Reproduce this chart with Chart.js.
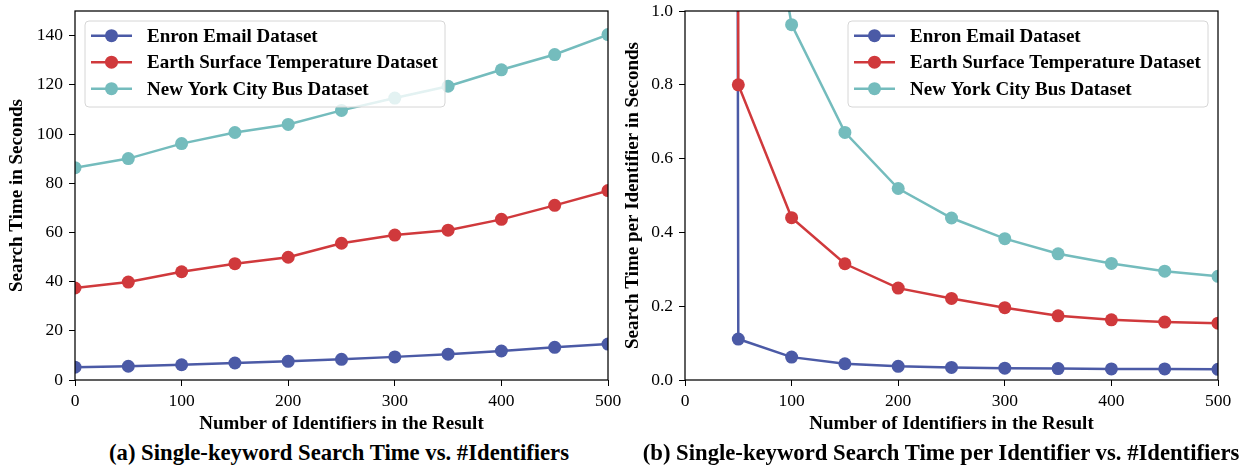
<!DOCTYPE html>
<html>
<head>
<meta charset="utf-8">
<script src="https://cdn.jsdelivr.net/npm/chart.js@4.4.1/dist/chart.umd.min.js"></script>
<style>
  html, body { margin: 0; padding: 0; background: #fff; }
  #wrap { position: relative; width: 1249px; height: 466px; background: #fff; overflow: hidden; }
  canvas { position: absolute; top: 0; }
  .cap { position: absolute; top: 440px; height: 26px; line-height: 26px; font-family: 'Liberation Serif', 'Times New Roman', serif; font-weight: bold; font-size: 22.7px; color: #000; white-space: nowrap; transform: translateX(-50%); }
</style>
</head>
<body>
<div id="wrap">
  <canvas id="c1" width="622" height="440" style="left:0px"></canvas>
  <canvas id="c2" width="634" height="440" style="left:615px"></canvas>
  <div class="cap" style="left:339px">(a) Single-keyword Search Time vs. #Identifiers</div>
  <div class="cap" style="left:941px">(b) Single-keyword Search Time per Identifier vs. #Identifiers</div>
</div>
<script>
// ---------- data ----------
const seriesNames = ['Enron Email Dataset', 'Earth Surface Temperature Dataset', 'New York City Bus Dataset'];
const seriesColors = ['#4b5aa6', '#d0393c', '#74bcbd'];
const identifiers = [0, 50, 100, 150, 200, 250, 300, 350, 400, 450, 500];

// (a) search time in seconds
const enronTime = [5.2, 5.6, 6.2, 6.9, 7.6, 8.4, 9.4, 10.5, 11.8, 13.3, 14.6];
const earthTime = [37.4, 39.8, 44.0, 47.3, 49.9, 55.6, 58.9, 60.9, 65.3, 71.0, 77.0];
const nycTime   = [86.3, 90.0, 96.1, 100.6, 103.9, 109.6, 114.6, 119.4, 126.1, 132.3, 140.4];

// (b) search time per identifier (value at 0 identifiers is off the scale)
const enronPer = [1000, 0.111, 0.062, 0.044, 0.037, 0.034, 0.032, 0.031, 0.030, 0.030, 0.029];
const earthPer = [1000, 0.800, 0.440, 0.315, 0.249, 0.221, 0.196, 0.174, 0.163, 0.157, 0.154];
const nycPer   = [1000, 1.800, 0.963, 0.671, 0.519, 0.439, 0.383, 0.342, 0.316, 0.295, 0.281];

const xTicksA = [0, 100, 200, 300, 400, 500];
const yTicksA = [0, 20, 40, 60, 80, 100, 120, 140];
const yTicksB = [0, 0.2, 0.4, 0.6, 0.8, 1.0];

const xTitle = 'Number of Identifiers in the Result';
const yTitleA = 'Search Time in Seconds';
const yTitleB = 'Search Time per Identifier in Seconds';

// ---------- helpers ----------
const SERIF = "'Liberation Serif', 'Times New Roman', serif";
Chart.defaults.font.family = SERIF;
Chart.defaults.color = '#000';

function pts(ys) { return identifiers.map((x, i) => ({ x: x, y: ys[i] })); }

function makeDatasets(arrs) {
  return arrs.map((ys, i) => ({
    label: seriesNames[i],
    data: pts(ys),
    borderColor: seriesColors[i],
    backgroundColor: seriesColors[i],
    borderWidth: 2.5,
    pointRadius: 6.5,
    pointHoverRadius: 6.5,
    pointBorderWidth: 0,
    pointBackgroundColor: seriesColors[i],
    tension: 0,
    clip: 0,
    order: 3 - i
  }));
}

function roundRectPath(ctx, x, y, w, h, r) {
  ctx.beginPath();
  ctx.moveTo(x + r, y);
  ctx.lineTo(x + w - r, y);
  ctx.arcTo(x + w, y, x + w, y + r, r);
  ctx.lineTo(x + w, y + h - r);
  ctx.arcTo(x + w, y + h, x + w - r, y + h, r);
  ctx.lineTo(x + r, y + h);
  ctx.arcTo(x, y + h, x, y + h - r, r);
  ctx.lineTo(x, y + r);
  ctx.arcTo(x, y, x + r, y, r);
  ctx.closePath();
}

const framePlugin = {
  id: 'frame',
  afterDatasetsDraw(chart, args, opts) {
    const ctx = chart.ctx, a = chart.chartArea;
    // legend box
    const bw = 360, bh = 86;
    const bx = opts.side === 'right' ? a.right - 10 - bw : a.left + 10;
    const by = a.top + 10;
    ctx.save();
    roundRectPath(ctx, bx, by, bw, bh, 4);
    ctx.fillStyle = 'rgba(255,255,255,0.8)';
    ctx.fill();
    ctx.strokeStyle = '#d6d6d6';
    ctx.lineWidth = 1;
    ctx.stroke();
    ctx.font = 'bold 19px ' + SERIF;
    ctx.textBaseline = 'middle';
    ctx.textAlign = 'left';
    chart.data.datasets.forEach((ds, i) => {
      const cy = by + 14.7 + i * 26.5;
      ctx.strokeStyle = ds.borderColor;
      ctx.lineWidth = 2.5;
      ctx.beginPath();
      ctx.moveTo(bx + 6, cy);
      ctx.lineTo(bx + 47, cy);
      ctx.stroke();
      ctx.fillStyle = ds.borderColor;
      ctx.beginPath();
      ctx.arc(bx + 26.5, cy, 6.5, 0, Math.PI * 2);
      ctx.fill();
      ctx.fillStyle = '#000';
      ctx.fillText(ds.label, bx + 62, cy + 1);
    });
    // frame
    ctx.strokeStyle = '#000';
    ctx.lineWidth = 1.25;
    ctx.strokeRect(a.left, a.top, a.right - a.left, a.bottom - a.top);
    ctx.restore();
  }
};

function makeChart(id, datasets, cfg) {
  return new Chart(document.getElementById(id), {
    type: 'line',
    data: { datasets: datasets },
    plugins: [framePlugin],
    options: {
      responsive: false,
      animation: false,
      devicePixelRatio: 1,
      layout: { padding: { left: 0, right: cfg.padRight, top: 11, bottom: 0 } },
      plugins: {
        legend: { display: false },
        tooltip: { enabled: false },
        frame: { side: cfg.side }
      },
      scales: {
        x: {
          type: 'linear',
          min: 0, max: 500,
          afterBuildTicks: s => { s.ticks = xTicksA.map(v => ({ value: v })); },
          ticks: { font: { size: 17.5 }, padding: 5, maxRotation: 0, color: '#000',
                   callback: v => String(v) },
          grid: { display: true, drawOnChartArea: false, drawTicks: true, tickLength: 6, color: '#000', lineWidth: 1 },
          border: { display: false },
          title: { display: true, text: xTitle, font: { size: 19, weight: 'bold' }, padding: { top: 0, bottom: 5 }, color: '#000' },
          afterFit: s => { s.height = 60; s.paddingLeft = 0; s.paddingRight = 0; }
        },
        y: {
          type: 'linear',
          min: cfg.yMin, max: cfg.yMax,
          afterBuildTicks: s => { s.ticks = cfg.yTicks.map(v => ({ value: v })); },
          ticks: { font: { size: 17.5 }, padding: 6, color: '#000', callback: cfg.yFmt },
          grid: { display: true, drawOnChartArea: false, drawTicks: true, tickLength: 6, color: '#000', lineWidth: 1 },
          border: { display: false },
          title: { display: true, text: cfg.yTitle, font: { size: 19, weight: 'bold' }, padding: { top: cfg.yTitlePad, bottom: 0 }, color: '#000' },
          afterFit: s => { s.width = cfg.yWidth; s.paddingTop = 0; s.paddingBottom = 0; }
        }
      }
    }
  });
}

makeChart('c1', makeDatasets([enronTime, earthTime, nycTime]), {
  side: 'left', padRight: 14, yMin: 0, yMax: 150, yTicks: yTicksA,
  yFmt: v => String(v), yTitle: yTitleA, yTitlePad: 5.6, yWidth: 75
});

makeChart('c2', makeDatasets([enronPer, earthPer, nycPer]), {
  side: 'right', padRight: 634 - 603, yMin: 0, yMax: 1, yTicks: yTicksB,
  yFmt: v => Number(v).toFixed(1), yTitle: yTitleB, yTitlePad: 6.6, yWidth: 70
});
</script>
</body>
</html>
